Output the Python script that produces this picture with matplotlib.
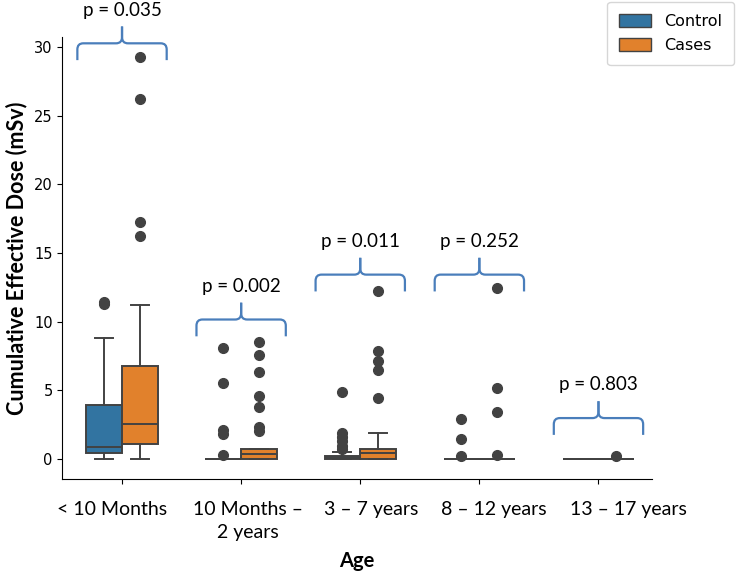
import numpy as np
import matplotlib.pyplot as plt
from matplotlib.path import Path
from matplotlib.patches import PathPatch, Patch
from matplotlib.transforms import ScaledTranslation

groups = ['< 10 Months', '10 Months –\n2 years', '3 – 7 years', '8 – 12 years', '13 – 17 years']

# Control box stats
ctrl_q1 = [0.42, 0.0, 0.0, 0.0, 0.0]
ctrl_med = [0.85, 0.0, 0.05, 0.0, 0.0]
ctrl_q3 = [3.92, 0.0, 0.22, 0.0, 0.0]
ctrl_lo = [0.0, 0.0, 0.0, 0.0, 0.0]
ctrl_hi = [8.8, 0.0, 0.53, 0.0, 0.0]
ctrl_fliers = [[11.3, 11.45],
               [8.08, 5.52, 2.1, 1.8, 0.3],
               [4.91, 1.87, 1.56, 1.27, 0.95, 0.72],
               [2.9, 1.46, 0.22],
               []]

# Cases box stats
case_q1 = [1.07, 0.0, 0.0, 0.0, 0.0]
case_med = [2.53, 0.36, 0.41, 0.0, 0.0]
case_q3 = [6.79, 0.73, 0.75, 0.0, 0.0]
case_lo = [0.0, 0.0, 0.0, 0.0, 0.0]
case_hi = [11.24, 0.73, 1.92, 0.0, 0.0]
case_fliers = [[29.27, 26.25, 17.25, 16.23],
               [8.5, 7.6, 6.3, 4.55, 3.75, 2.36, 2.0],
               [12.2, 7.88, 7.1, 6.5, 4.43],
               [12.46, 5.16, 3.45, 0.29],
               [0.22]]

p_values = ['0.035', '0.002', '0.011', '0.252', '0.803']
brace_base = [29.05, 8.93, 12.2, 12.2, 1.75]

c_ctrl = '#3274a1'
c_case = '#e1812c'
c_line = '#424242'
c_brace = '#4a7ebb'


def stats(q1, med, q3, lo, hi, fl):
    return [dict(q1=a, med=b, q3=c, whislo=d, whishi=e, fliers=f)
            for a, b, c, d, e, f in zip(q1, med, q3, lo, hi, fl)]


def brace(ax, xc, y0, hw=0.375, h=2.45, rx=0.05, ry=0.45):
    y1 = y0 + h / 2
    y2 = y0 + h
    for s in (-1, 1):
        xe = xc + s * hw
        verts = [(xe, y0), (xe, y1 - ry), (xe, y1), (xe - s * rx, y1),
                 (xc + s * rx, y1), (xc, y1), (xc, y1 + ry), (xc, y2)]
        codes = [Path.MOVETO, Path.LINETO, Path.CURVE3, Path.CURVE3,
                 Path.LINETO, Path.CURVE3, Path.CURVE3, Path.LINETO]
        ax.add_patch(PathPatch(Path(verts, codes), fill=False, ec=c_brace,
                               lw=1.6, clip_on=False))


fig = plt.figure(figsize=(7.41, 5.74), dpi=100)
ax = fig.add_axes([0.0843, 0.1655, 0.7957, 0.77])

x = np.arange(len(groups))
lineprops = dict(color=c_line, linewidth=1.4)
flierprops = dict(marker='o', markerfacecolor=c_line, markeredgecolor=c_line, markersize=7)

for st, off, col in [(stats(ctrl_q1, ctrl_med, ctrl_q3, ctrl_lo, ctrl_hi, ctrl_fliers), -0.15, c_ctrl),
                     (stats(case_q1, case_med, case_q3, case_lo, case_hi, case_fliers), 0.15, c_case)]:
    ax.bxp(st, positions=x + off, widths=0.3, patch_artist=True, showfliers=True,
           boxprops=dict(facecolor=col, edgecolor=c_line, linewidth=1.4),
           whiskerprops=lineprops, capprops=lineprops, medianprops=lineprops,
           flierprops=flierprops, manage_ticks=False)

ymax = max(max(f) for f in case_fliers)
ax.set_ylim(-0.05 * ymax, 1.05 * ymax)
ax.set_xlim(-0.5, 4.45)
ax.set_yticks([0, 5, 10, 15, 20, 25, 30])
ax.tick_params(axis='y', labelsize=10.5)
ax.set_xticks(x)
ax.set_xticklabels(groups, fontsize=14, family='Lato', linespacing=1.45)
ax.tick_params(axis='x', pad=12)
# labels in the original sit a little off their ticks
label_shift = [-10, 7, 11, 14, 30]
for lab, dx in zip(ax.get_xticklabels(), label_shift):
    lab.set_transform(lab.get_transform() + ScaledTranslation(dx / 100, 0, fig.dpi_scale_trans))
for s in ['top', 'right']:
    ax.spines[s].set_visible(False)

ax.set_xlabel('Age', fontsize=14.5, fontweight='bold', family='Lato', labelpad=7)
ax.set_ylabel('Cumulative Effective Dose (mSv)', fontsize=15.5, fontweight='bold', family='Lato', labelpad=5)

for i, (p, yb) in enumerate(zip(p_values, brace_base)):
    brace(ax, x[i], yb)
    ax.text(x[i], yb + 3.65, f'p = {p}', ha='center', va='center',
            fontsize=13.5, family='Lato', clip_on=False)

handles = [Patch(facecolor=c_ctrl, edgecolor=c_line, label='Control'),
           Patch(facecolor=c_case, edgecolor=c_line, label='Cases')]
ax.legend(handles=handles, loc='upper right', bbox_to_anchor=(734 / 741, 1 - 2 / 574),
          bbox_transform=fig.transFigure, borderaxespad=0, fontsize=11.5,
          borderpad=0.75, labelspacing=0.55, handleheight=0.85)

plt.savefig('out.png', dpi=100)
